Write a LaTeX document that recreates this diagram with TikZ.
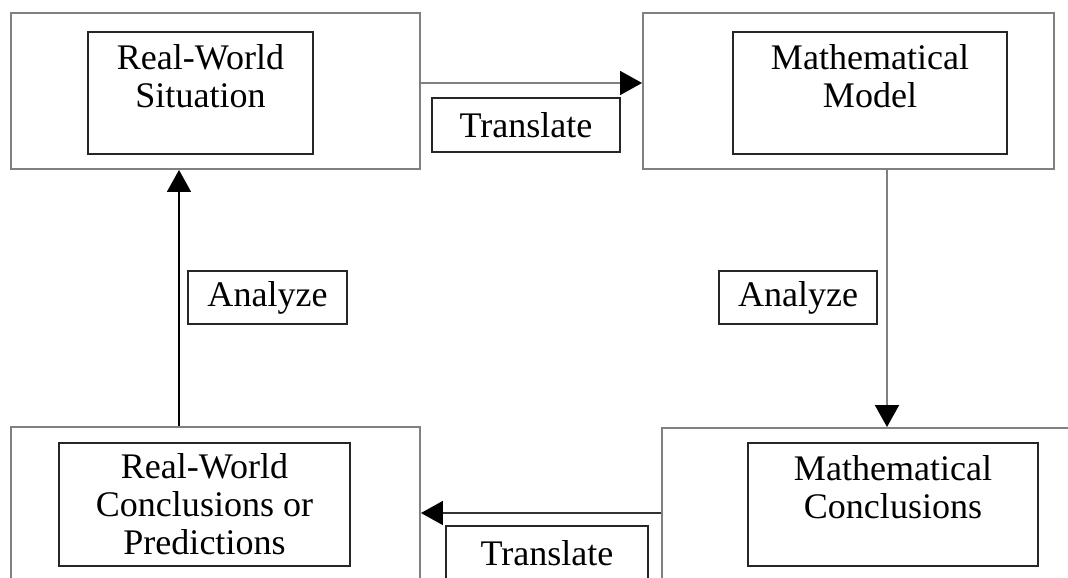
\documentclass[tikz,border=0pt]{standalone}
\usepackage{fontspec}
\setmainfont{Liberation Serif}
\usetikzlibrary{arrows.meta}

\begin{document}
\begin{tikzpicture}[
		frame/.style={rectangle, draw=black!50, line width=1.1pt},
		stage/.style={rectangle, draw=black!85, line width=0.9pt, inner sep=0pt, align=center, font=\fontsize{20.5}{21.6}\selectfont},
		tag/.style={rectangle, draw=black!85, line width=0.9pt, inner sep=0pt, font=\fontsize{20.5}{21.6}\selectfont},
		flow/.style={-{Triangle[length=0.44cm, width=0.48cm, color=black]}, line width=1pt}
		]
		
		\useasboundingbox (0,0) rectangle (21.36,-11.54);
		\clip (0,0) rectangle (21.36,-11.54);
		
		% Outer frames
		\node[frame, minimum width=8.18cm, minimum height=3.12cm] (rwFrame) at (4.31,-1.82) {};
		\node[frame, minimum width=8.22cm, minimum height=3.12cm] (mmFrame) at (16.97,-1.82) {};
		\node[frame, minimum width=8.18cm, minimum height=3.66cm] (rcFrame) at (4.31,-10.37) {};
		\node[frame, minimum width=8.56cm, minimum height=3.64cm] (mcFrame) at (17.52,-10.38) {};
		
		% Stage boxes (text sits in the upper part)
		\node[stage, minimum width=4.5cm, minimum height=2.44cm] (rw) at (4.01,-1.86) {Real-World\\Situation\\[-0.3cm]\strut};
		\node[stage, minimum width=5.48cm, minimum height=2.44cm] (mm) at (17.4,-1.86) {Mathematical\\Model\\[-0.3cm]\strut};
		\node[stage, minimum width=5.82cm, minimum height=2.46cm] (rc) at (4.09,-10.09) {Real-World\\Conclusions or\\Predictions};
		\node[stage, minimum width=5.8cm, minimum height=2.46cm] (mc) at (17.86,-10.09) {Mathematical\\Conclusions\\[-0.28cm]\strut};
		
		% Step labels
		\node[tag, minimum width=3.76cm, minimum height=1.08cm] (translateTop) at (10.52,-2.5) {Translate};
		\node[tag, minimum width=3.18cm, minimum height=1.06cm] (analyzeLeft) at (5.35,-5.95) {Analyze};
		\node[tag, minimum width=3.16cm, minimum height=1.06cm] (analyzeRight) at (15.96,-5.95) {Analyze};
		\node[tag, minimum width=4.04cm, minimum height=1.08cm] (translateBottom) at (10.94,-11.06) {Translate};
		
		% Arrows round the cycle
		\draw[flow, draw=black!50] ([yshift=0.16cm]rwFrame.east) -- ([yshift=0.16cm]mmFrame.west);
		\draw[flow, draw=black!50] ([xshift=0.77cm]mmFrame.south) -- ([xshift=0.77cm]mmFrame.south |- mcFrame.north);
		\draw[flow, draw=black!80] ([yshift=0.12cm]mcFrame.west) -- ([yshift=0.12cm]mcFrame.west -| rcFrame.east);
		\draw[flow, draw=black] ([xshift=-0.73cm]rcFrame.north) -- ([xshift=-0.73cm]rcFrame.north |- rwFrame.south);
		
	\end{tikzpicture}
\end{document}
